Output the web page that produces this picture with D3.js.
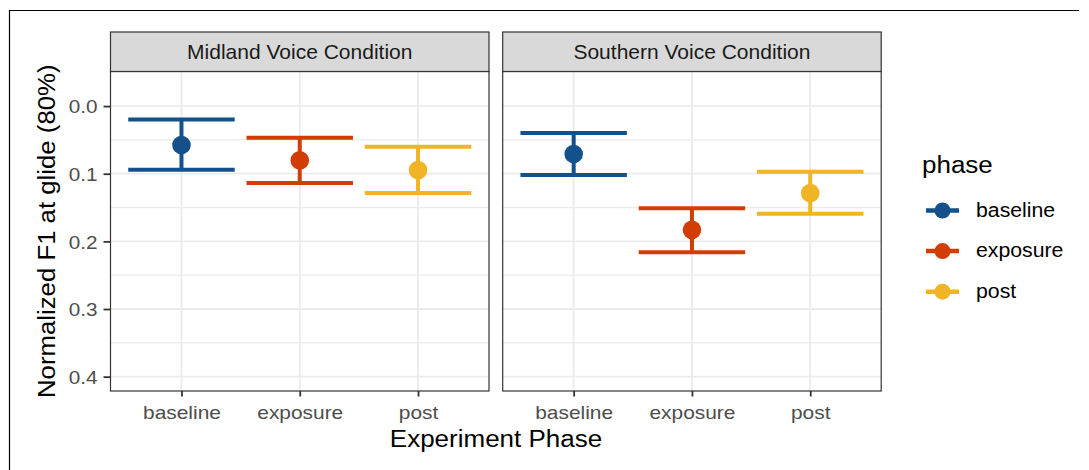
<!DOCTYPE html>
<html><head><meta charset="utf-8">
<script src="https://cdn.jsdelivr.net/npm/d3@7"></script>
<style>body{margin:0;background:#fff;}svg{display:block;font-family:"Liberation Sans",Arial,sans-serif;}</style>
</head><body><svg id="c" width="1089" height="470"></svg>
<script>
const phases = ["baseline", "exposure", "post"];
const conditions = ["Midland Voice Condition", "Southern Voice Condition"];
const colors = ["#13508c", "#d13d03", "#f0b425"];
// [condition][phase]
const means = [[0.0575, 0.0803, 0.0946], [0.0709, 0.183, 0.1286]];
const lower = [[0.0200, 0.0467, 0.0600], [0.0397, 0.151, 0.0970]];
const upper = [[0.0940, 0.1138, 0.1286], [0.1020, 0.216, 0.1590]];
const yTicks = [0.0, 0.1, 0.2, 0.3, 0.4];
const yMinor = [0.05, 0.15, 0.25, 0.35];

const FONT = "Liberation Sans, Arial, sans-serif";
function stretch(sel, f) {
  sel.each(function () {
    const w = this.getComputedTextLength();
    d3.select(this).attr("textLength", w * f).attr("lengthAdjust", "spacingAndGlyphs");
  });
}

const svg = d3.select("#c");
// outer frame
svg.append("line").attr("x1", 9).attr("x2", 1079).attr("y1", 10.5).attr("y2", 10.5).attr("stroke", "#000").attr("stroke-width", 1.2);
svg.append("line").attr("x1", 9.5).attr("x2", 9.5).attr("y1", 10).attr("y2", 470).attr("stroke", "#000").attr("stroke-width", 1.2);

const panelX = [110.5, 502.7];
const panelW = 378.5;
const stripTop = 32, stripBot = 71.5, plotBot = 391;

const y = d3.scaleLinear().domain([-0.0511, 0.4212]).range([stripBot, plotBot]);

conditions.forEach((cond, ci) => {
  const x0 = panelX[ci];
  const x = d3.scalePoint().domain(phases).range([x0 + panelW * 0.6 / 3.2, x0 + panelW * 2.6 / 3.2]);
  const bw = panelW * 0.9 / 3.2;
  const g = svg.append("g");
  g.append("rect").attr("x", x0).attr("y", stripBot).attr("width", panelW).attr("height", plotBot - stripBot).attr("fill", "#fff");
  g.selectAll(".mn").data(yMinor).enter().append("line")
    .attr("x1", x0).attr("x2", x0 + panelW).attr("y1", d => y(d)).attr("y2", d => y(d))
    .attr("stroke", "#ebebeb").attr("stroke-width", 1.2);
  g.selectAll(".mj").data(yTicks).enter().append("line")
    .attr("x1", x0).attr("x2", x0 + panelW).attr("y1", d => y(d)).attr("y2", d => y(d))
    .attr("stroke", "#ebebeb").attr("stroke-width", 1.8);
  g.selectAll(".vx").data(phases).enter().append("line")
    .attr("x1", d => x(d)).attr("x2", d => x(d)).attr("y1", stripBot).attr("y2", plotBot)
    .attr("stroke", "#ebebeb").attr("stroke-width", 1.8);
  phases.forEach((p, pi) => {
    const cx = x(p), col = colors[pi];
    const eg = g.append("g");
    eg.append("line").attr("x1", cx).attr("x2", cx).attr("y1", y(lower[ci][pi])).attr("y2", y(upper[ci][pi]))
      .attr("stroke", col).attr("stroke-width", 4);
    [lower[ci][pi], upper[ci][pi]].forEach(v => {
      eg.append("line").attr("x1", cx - bw / 2).attr("x2", cx + bw / 2).attr("y1", y(v)).attr("y2", y(v))
        .attr("stroke", col).attr("stroke-width", 4);
    });
    eg.append("circle").attr("cx", cx).attr("cy", y(means[ci][pi])).attr("r", 9.3).attr("fill", col);
  });
  g.append("rect").attr("x", x0).attr("y", stripBot).attr("width", panelW).attr("height", plotBot - stripBot)
    .attr("fill", "none").attr("stroke", "#333").attr("stroke-width", 1.2);
  g.append("rect").attr("x", x0).attr("y", stripTop).attr("width", panelW).attr("height", stripBot - stripTop)
    .attr("fill", "#d9d9d9").attr("stroke", "#333").attr("stroke-width", 1.2);
  g.append("text").attr("x", x0 + panelW / 2).attr("y", 59.3)
    .attr("text-anchor", "middle").attr("font-size", 21).attr("fill", "#1a1a1a").text(cond);
  const xa = g.append("g").attr("transform", `translate(0,${plotBot})`)
    .call(d3.axisBottom(x).tickSize(5.5).tickPadding(5));
  xa.select(".domain").remove();
  xa.selectAll("line").attr("stroke", "#333").attr("stroke-width", 1.8);
  xa.selectAll("text").attr("font-size", 19).attr("fill", "#4d4d4d").attr("font-family", FONT)
    .attr("y", 28).attr("dy", "0");
  stretch(xa.selectAll("text"), 1.1);
});

const ya = svg.append("g").attr("transform", `translate(${panelX[0]},0)`)
  .call(d3.axisLeft(y).tickValues(yTicks).tickFormat(d3.format(".1f")).tickSize(7).tickPadding(6));
ya.select(".domain").remove();
ya.selectAll("line").attr("stroke", "#333").attr("stroke-width", 1.8);
ya.selectAll("text").attr("font-size", 18.5).attr("fill", "#4d4d4d").attr("font-family", FONT).attr("dy", "0.36em");
stretch(ya.selectAll("text"), 1.12);

const xt = svg.append("text").attr("x", 496).attr("y", 446.5)
  .attr("text-anchor", "middle").attr("font-size", 23).attr("fill", "#000").text("Experiment Phase");
stretch(xt, 1.13);
const yt = svg.append("text").attr("transform", `translate(54.5,${(stripBot + plotBot) / 2}) rotate(-90)`)
  .attr("text-anchor", "middle").attr("font-size", 23).attr("fill", "#000").text("Normalized F1 at glide (80%)");
stretch(yt, 1.12);

const lg = svg.append("g");
const lt = lg.append("text").attr("x", 922).attr("y", 172.7).attr("font-size", 23).attr("fill", "#000").text("phase");
stretch(lt, 1.13);
phases.forEach((p, i) => {
  const cy = 210.5 + i * 40.6;
  lg.append("line").attr("x1", 926).attr("x2", 959).attr("y1", cy).attr("y2", cy).attr("stroke", colors[i]).attr("stroke-width", 4.5);
  lg.append("circle").attr("cx", 942.5).attr("cy", cy).attr("r", 8).attr("fill", colors[i]);
  const t = lg.append("text").attr("x", 976).attr("y", cy + 6.3).attr("font-size", 19.5).attr("fill", "#000").text(p);
  stretch(t, 1.09);
});
</script></body></html>
